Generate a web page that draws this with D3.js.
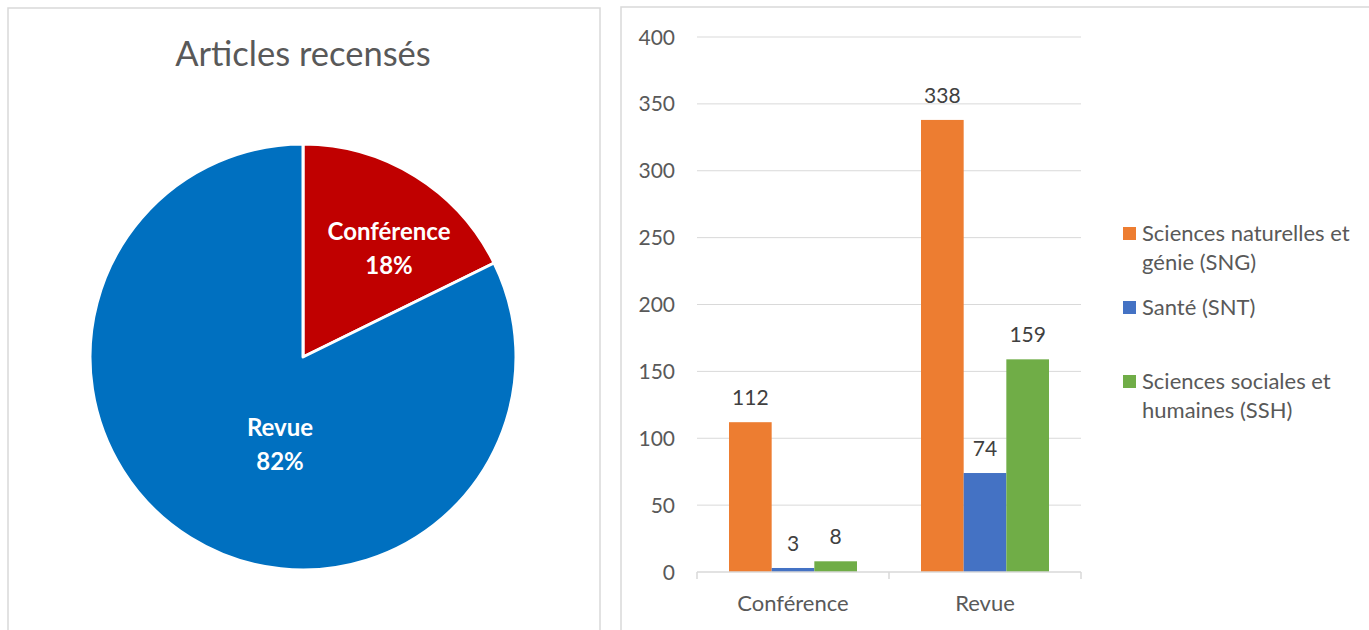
<!DOCTYPE html>
<html><head><meta charset="utf-8">
<script src="https://cdn.jsdelivr.net/npm/d3@7/dist/d3.min.js"></script>
<style>html,body{margin:0;padding:0;background:#fff;}svg{display:block;}</style>
</head><body>
<svg id="c" width="1369" height="630"></svg>
<script>
const categories = ["Conférence", "Revue"];
const seriesNames = ["Sciences naturelles et génie (SNG)", "Santé (SNT)", "Sciences sociales et humaines (SSH)"];
const legendLines = [["Sciences naturelles et", "génie (SNG)"], ["Santé (SNT)"], ["Sciences sociales et", "humaines (SSH)"]];
const sngValues = [112, 338];
const sntValues = [3, 74];
const sshValues = [8, 159];
const yTicks = [0, 50, 100, 150, 200, 250, 300, 350, 400];
const pieTitle = "Articles recensés";
const pieLabels = ["Conférence", "Revue"];
const piePercents = ["18%", "82%"];

const font = "Lato, 'Open Sans', sans-serif";
const txt = "#595959";
const svg = d3.select("#c");

// panels
svg.append("rect").attr("x", 8).attr("y", 8).attr("width", 592).attr("height", 640)
  .attr("fill", "#fff").attr("stroke", "#d9d9d9").attr("stroke-width", 1.5);
svg.append("rect").attr("x", 621).attr("y", 7).attr("width", 760).attr("height", 640)
  .attr("fill", "#fff").attr("stroke", "#d9d9d9").attr("stroke-width", 1.5);

// ---------- Pie ----------
const pieValues = [0, 1].map(i => sngValues[i] + sntValues[i] + sshValues[i]);
const pieColors = ["#C00000", "#0070C0"];
svg.append("text").attr("x", 303).attr("y", 66).attr("text-anchor", "middle")
  .attr("font-family", font).attr("font-size", 34.5).attr("fill", txt).text(pieTitle);
const cx = 303, cy = 357, R = 213;
const pie = d3.pie().sort(null).value(d => d)(pieValues);
const arc = d3.arc().innerRadius(0).outerRadius(R);
const g = svg.append("g").attr("transform", `translate(${cx},${cy})`);
g.selectAll("path").data(pie).join("path").attr("d", arc)
  .attr("fill", (d, i) => pieColors[i]).attr("stroke", "#fff").attr("stroke-width", 3)
  .attr("stroke-linejoin", "round");
const labelPos = [[86, -117], [-23, 79]];
pie.forEach((d, i) => {
  const t = g.append("text").attr("text-anchor", "middle").attr("font-family", font)
    .attr("font-weight", "bold").attr("font-size", 24).attr("fill", "#fff");
  t.append("tspan").attr("x", labelPos[i][0]).attr("y", labelPos[i][1]).text(pieLabels[i]);
  t.append("tspan").attr("x", labelPos[i][0]).attr("y", labelPos[i][1] + 34).text(piePercents[i]);
});

// ---------- Bars ----------
const x0 = d3.scaleBand().domain(categories).range([697, 1081]);
const inner = d3.scaleBand().domain(seriesNames).range([0, x0.bandwidth()]).paddingOuter(0.75);
const y = d3.scaleLinear().domain([0, 400]).range([572, 37]);
const colors = ["#ED7D31", "#4472C4", "#70AD47"];
const series = [sngValues, sntValues, sshValues];

svg.append("g").selectAll("line").data(yTicks.filter(t => t > 0)).join("line")
  .attr("x1", 697).attr("x2", 1081).attr("y1", d => y(d)).attr("y2", d => y(d))
  .attr("stroke", "#d9d9d9").attr("stroke-width", 1);
svg.append("g").selectAll("text").data(yTicks).join("text")
  .attr("x", 675).attr("y", d => y(d) + 7.5).attr("text-anchor", "end")
  .attr("font-family", font).attr("font-size", 21).attr("fill", txt).text(d => d);

categories.forEach((c, ci) => {
  series.forEach((vals, si) => {
    const bx = x0(c) + inner(seriesNames[si]);
    svg.append("rect").attr("x", bx).attr("y", y(vals[ci]))
      .attr("width", inner.bandwidth()).attr("height", y(0) - y(vals[ci]))
      .attr("fill", colors[si]);
    svg.append("text").attr("x", bx + inner.bandwidth() / 2).attr("y", y(vals[ci]) - 17)
      .attr("text-anchor", "middle").attr("font-family", font).attr("font-size", 21)
      .attr("fill", "#404040").text(vals[ci]);
  });
});

// x axis
const ax = svg.append("g").attr("stroke", "#d9d9d9").attr("stroke-width", 1.5);
ax.append("line").attr("x1", 697).attr("x2", 1081).attr("y1", y(0)).attr("y2", y(0));
[697, x0("Revue"), 1081].forEach(v => ax.append("line").attr("x1", v).attr("x2", v)
  .attr("y1", y(0)).attr("y2", y(0) + 7));
svg.append("g").selectAll("text").data(categories).join("text")
  .attr("x", d => x0(d) + x0.bandwidth() / 2).attr("y", 611).attr("text-anchor", "middle")
  .attr("font-family", font).attr("font-size", 22).attr("fill", txt).text(d => d);

// legend
const legY = [233, 307, 381];
legendLines.forEach((lines, i) => {
  svg.append("rect").attr("x", 1123).attr("y", legY[i] - 6).attr("width", 13).attr("height", 13)
    .attr("fill", colors[i]);
  const t = svg.append("text").attr("font-family", font).attr("font-size", 22).attr("fill", txt);
  lines.forEach((l, j) => t.append("tspan").attr("x", 1142).attr("y", legY[i] + 8 + j * 29).text(l));
});
</script>
</body></html>
